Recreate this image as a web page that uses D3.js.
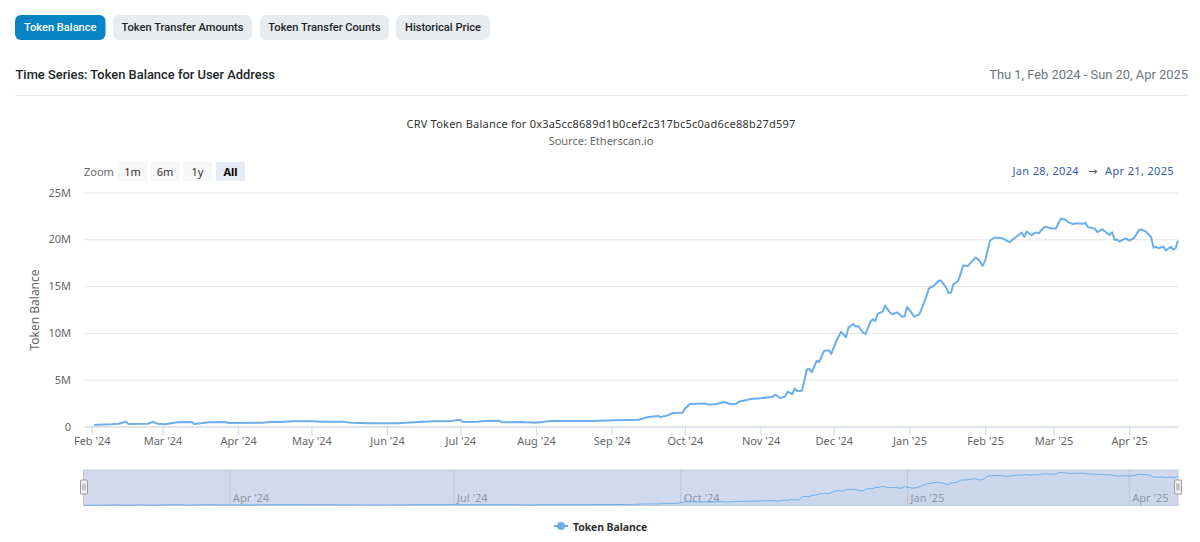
<!DOCTYPE html>
<html>
<head>
<meta charset="utf-8">
<script src="https://cdn.jsdelivr.net/npm/d3@7"></script>
<style>
  html, body { margin: 0; background: #fff; }
  svg { display: block; }
  .ui { font-family: Roboto, sans-serif; }
  .hc { font-family: "Noto Sans", sans-serif; }
</style>
</head>
<body>
<div id="chart"></div>
<script>
const tabLabels = ['Token Balance', 'Token Transfer Amounts', 'Token Transfer Counts', 'Historical Price'];
const zoomLabels = ['1m', '6m', '1y', 'All'];
const yTicks = [0, 5, 10, 15, 20, 25];

// days since Feb 1 2024
const dayOffsets = [1, 2, 8, 11, 14, 15, 23, 25, 27, 30, 35, 41, 42, 48, 55, 56, 70, 74, 77, 82, 90, 95, 103, 106, 114, 125, 132, 140, 147, 151, 152, 158, 161, 167, 168, 176, 182, 188, 200, 205, 214, 224, 228, 232, 233, 236, 238, 242, 243, 245, 251, 253, 256, 259, 262, 264, 265, 267, 270, 274, 279, 280, 282, 284, 285, 287, 288, 289, 291, 293, 294, 295, 297, 298, 300, 302, 303, 305, 307, 309, 310, 312, 313, 314, 316, 317, 319, 320, 321, 322, 324, 325, 327, 328, 330, 332, 333, 334, 337, 339, 341, 343, 345, 347, 348, 350, 351, 352, 353, 355, 357, 359, 362, 363, 365, 366, 368, 370, 373, 376, 378, 381, 382, 383, 385, 387, 388, 390, 391, 393, 395, 397, 399, 400, 402, 403, 406, 407, 408, 411, 412, 414, 416, 417, 418, 419, 420, 421, 423, 424, 425, 427, 429, 430, 432, 434, 435, 436, 437, 439, 440, 442, 443, 444, 445];
// token balance in millions
const balances = [0.13, 0.2, 0.23, 0.3, 0.5, 0.27, 0.3, 0.5, 0.3, 0.23, 0.45, 0.48, 0.27, 0.45, 0.48, 0.37, 0.4, 0.5, 0.48, 0.55, 0.55, 0.52, 0.52, 0.4, 0.34, 0.34, 0.45, 0.55, 0.58, 0.72, 0.47, 0.5, 0.58, 0.62, 0.45, 0.48, 0.4, 0.58, 0.58, 0.59, 0.66, 0.73, 1.01, 1.12, 1.01, 1.19, 1.44, 1.48, 1.87, 2.4, 2.47, 2.33, 2.4, 2.62, 2.37, 2.44, 2.65, 2.76, 2.94, 3.01, 3.19, 3.4, 3.04, 3.19, 3.72, 3.47, 4.08, 3.79, 3.83, 6.11, 6.14, 5.79, 7.03, 6.89, 8.07, 8.14, 7.75, 9.13, 10.13, 9.53, 10.56, 10.95, 10.67, 10.74, 10.02, 9.88, 11.2, 11.45, 11.27, 12.05, 12.27, 12.91, 12.16, 11.99, 12.2, 11.73, 11.77, 12.77, 11.73, 11.99, 13.23, 14.76, 15.04, 15.6, 15.56, 14.87, 14.23, 14.3, 15.22, 15.56, 17.2, 17.16, 18.05, 17.94, 17.16, 17.7, 19.87, 20.19, 20.12, 19.69, 20.12, 20.73, 20.26, 20.83, 20.44, 20.73, 20.65, 21.26, 21.33, 21.15, 21.15, 22.22, 22.08, 21.83, 21.62, 21.72, 21.65, 21.76, 21.33, 21.12, 20.76, 21.08, 20.65, 20.47, 20.76, 19.94, 19.98, 19.76, 20.05, 20.05, 19.87, 20.12, 20.98, 21.05, 20.8, 20.22, 19.09, 19.2, 19.05, 19.23, 18.8, 19.2, 18.91, 19.05, 19.87];

const width = 1200;
const height = 542;
const startDay = new Date(Date.UTC(2024, 1, 1));
const data = dayOffsets.map((d, i) => ({ date: d3.utcDay.offset(startDay, d), value: balances[i] }));

const svg = d3.select('#chart').append('svg').attr('width', width).attr('height', height);

// page tabs
const tabX = [15, 113, 260, 396];
const tabW = [90.5, 139, 129, 94];
const tabs = svg.append('g').attr('class', 'ui');
tabLabels.forEach((label, i) => {
  tabs.append('rect').attr('x', tabX[i]).attr('y', 15).attr('width', tabW[i]).attr('height', 25).attr('rx', 6)
    .attr('fill', i === 0 ? '#0784c3' : '#e9ecef');
  tabs.append('text').attr('x', tabX[i] + tabW[i] / 2).attr('y', 31).attr('text-anchor', 'middle')
    .attr('font-size', 11.1).attr('font-weight', 500).attr('fill', i === 0 ? '#fff' : '#212529').text(label);
});

const head = svg.append('g').attr('class', 'ui');
head.append('text').attr('x', 15.5).attr('y', 79).attr('font-size', 12.9).attr('font-weight', 500).attr('fill', '#212529')
  .text('Time Series: Token Balance for User Address');
head.append('text').attr('x', 1188).attr('y', 79).attr('text-anchor', 'end').attr('font-size', 12.9).attr('fill', '#6c757d')
  .text('Thu 1, Feb 2024 - Sun 20, Apr 2025');
head.append('line').attr('x1', 15).attr('x2', 1188).attr('y1', 95.5).attr('y2', 95.5).attr('stroke', '#e9ecef');

const chart = svg.append('g').attr('class', 'hc');
chart.append('text').attr('x', 601).attr('y', 127.5).attr('text-anchor', 'middle').attr('font-size', 11).attr('letter-spacing', 0.22).attr('fill', '#333')
  .text('CRV Token Balance for 0x3a5cc8689d1b0cef2c317bc5c0ad6ce88b27d597');
chart.append('text').attr('x', 601).attr('y', 145).attr('text-anchor', 'middle').attr('font-size', 11).attr('fill', '#666')
  .text('Source: Etherscan.io');

// range selector
chart.append('text').attr('x', 84).attr('y', 176).attr('font-size', 11).attr('fill', '#666').text('Zoom');
const zoomX = [118, 150.5, 183, 216];
zoomLabels.forEach((label, i) => {
  const active = label === 'All';
  chart.append('rect').attr('x', zoomX[i]).attr('y', 162).attr('width', 29).attr('height', 19)
    .attr('fill', active ? '#e6ebf5' : '#f7f7f7');
  chart.append('text').attr('x', zoomX[i] + 14.5).attr('y', 176).attr('text-anchor', 'middle').attr('font-size', 11)
    .attr('font-weight', active ? 700 : 400).attr('fill', active ? '#000' : '#333').text(label);
});
chart.append('text').attr('x', 1079).attr('y', 175).attr('text-anchor', 'end').attr('font-size', 11).attr('letter-spacing', 0.35).attr('fill', '#335cad').text('Jan 28, 2024');
chart.append('text').attr('x', 1092.5).attr('y', 175).attr('text-anchor', 'middle').attr('font-size', 11).attr('font-family', '"DejaVu Sans", sans-serif').attr('fill', '#555').text('→');
chart.append('text').attr('x', 1174).attr('y', 175).attr('text-anchor', 'end').attr('font-size', 11).attr('letter-spacing', 0.35).attr('fill', '#335cad').text('Apr 21, 2025');

// main plot
const x = d3.scaleUtc()
  .domain([new Date(Date.UTC(2024, 0, 28, 20)), new Date(Date.UTC(2025, 3, 21))])
  .range([84, 1178]);
const y = d3.scaleLinear().domain([0, 25]).range([426.5, 192.5]);

const yAxis = chart.append('g').attr('transform', 'translate(84,0)')
  .call(d3.axisLeft(y).tickValues(yTicks).tickSize(-1094).tickPadding(13).tickFormat(v => v === 0 ? '0' : v + 'M'));
yAxis.select('.domain').remove();
yAxis.selectAll('line').attr('stroke', '#e6e6e6');
yAxis.selectAll('text').attr('font-size', 11).attr('fill', '#666').attr('font-family', '"Noto Sans", sans-serif');

const monthTicks = d3.utcMonth.range(new Date(Date.UTC(2024, 1, 1)), new Date(Date.UTC(2025, 3, 2)));
const xAxis = chart.append('g').attr('transform', 'translate(0,426.5)')
  .call(d3.axisBottom(x).tickValues(monthTicks).tickSize(9).tickPadding(1.5).tickFormat(d3.utcFormat("%b '%y")).tickSizeOuter(0));
xAxis.select('.domain').attr('stroke', '#ccd6eb');
xAxis.selectAll('line').attr('stroke', '#ccd6eb');
xAxis.selectAll('text').attr('font-size', 11).attr('fill', '#666').attr('font-family', '"Noto Sans", sans-serif');

chart.append('text').attr('transform', 'translate(39,310) rotate(-90)').attr('text-anchor', 'middle')
  .attr('font-size', 12).attr('fill', '#666').text('Token Balance');

const line = d3.line().x(d => x(d.date)).y(d => y(d.value));
chart.append('path').datum(data).attr('d', line).attr('fill', 'none')
  .attr('stroke', '#6caeeb').attr('stroke-width', 2).attr('stroke-linejoin', 'round');

// navigator
const navX = d3.scaleUtc().domain(d3.extent(data, d => d.date)).range([84, 1178]);
const navY = d3.scaleLinear().domain([0, d3.max(balances)]).range([505.5, 472.5]);
const nav = chart.append('g');
nav.append('rect').attr('x', 83.5).attr('y', 470).attr('width', 1094.5).attr('height', 35.5)
  .attr('fill', '#d1daed').attr('stroke', '#c4c9d4');
const navTicks = d3.utcMonth.every(3).range(navX.domain()[0], navX.domain()[1]);
const navAxis = nav.append('g').attr('transform', 'translate(0,505.5)')
  .call(d3.axisBottom(navX).tickValues(navTicks).tickSize(-35.5).tickFormat(d3.utcFormat("%b '%y")));
navAxis.select('.domain').remove();
navAxis.selectAll('line').attr('stroke', '#bcc5d8');
navAxis.selectAll('text').attr('font-size', 11).attr('fill', '#8f95a5').attr('text-anchor', 'start')
  .attr('font-family', '"Noto Sans", sans-serif').attr('x', 3).attr('y', -3.5).attr('dy', 0);
const navArea = d3.area().x(d => navX(d.date)).y0(505.5).y1(d => navY(d.value));
nav.append('path').datum(data).attr('d', navArea).attr('fill', '#6caeeb').attr('fill-opacity', 0.05);
const navLine = d3.line().x(d => navX(d.date)).y(d => navY(d.value));
nav.append('path').datum(data).attr('d', navLine).attr('fill', 'none').attr('stroke', '#6caeeb').attr('stroke-width', 1);

[84, 1178].forEach(hx => {
  const h = nav.append('g').attr('transform', `translate(${hx},487)`);
  h.append('rect').attr('x', -3.5).attr('y', -7).attr('width', 7).attr('height', 14).attr('rx', 1).attr('fill', '#f2f2f2').attr('stroke', '#999');
  [-1, 1].forEach(o => h.append('line').attr('x1', o).attr('x2', o).attr('y1', -3.5).attr('y2', 3.5).attr('stroke', '#999'));
});

// legend
const legend = chart.append('g');
legend.append('line').attr('x1', 554).attr('x2', 568).attr('y1', 526).attr('y2', 526).attr('stroke', '#6caeeb').attr('stroke-width', 2);
legend.append('circle').attr('cx', 561).attr('cy', 526).attr('r', 4).attr('fill', '#6caeeb');
legend.append('text').attr('x', 573).attr('y', 530.5).attr('font-size', 10.5).attr('letter-spacing', -0.1).attr('font-weight', 700).attr('fill', '#333').text('Token Balance');
</script>
</body>
</html>
